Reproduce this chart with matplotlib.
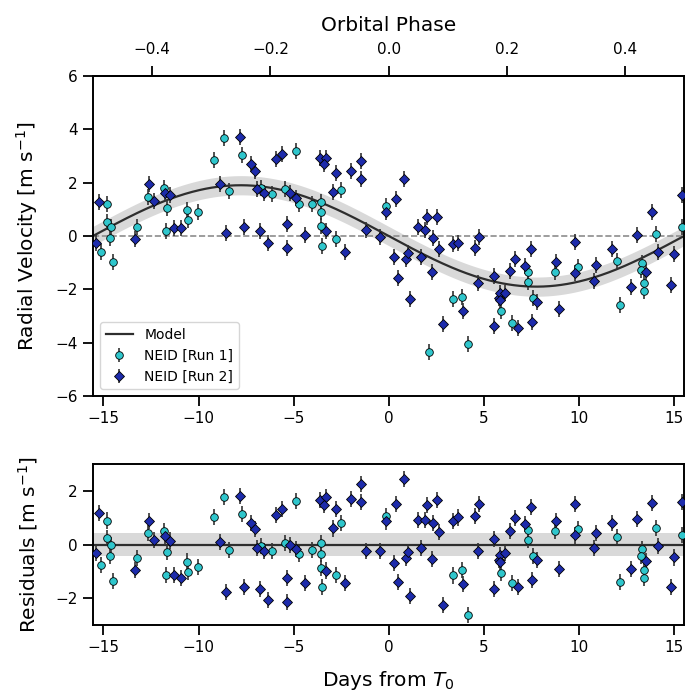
import numpy as np
import matplotlib
matplotlib.use("Agg")
from matplotlib import pyplot as plt

# orbit model
periodo = 31.1
K = 1.9
banda_rv = 0.36
banda_res = 0.43

# NEID Run 1 (dias desde T0, velocidad radial m/s)
t_run1 = [-14.79, -15.12, -14.79, -14.61, -14.65, -14.51, -12.67, -13.23, -11.83, -11.68,
          -11.71, -10.59, -10.54, -10.05, -9.21, -8.65, -7.72, -8.42, -6.71, -6.12,
          -4.88, -5.45, -4.72, -4.02, -3.53, -3.53, -3.53, -3.48, -2.52, -2.78,
          -0.12, 2.15, 3.41, 3.86, 4.20, 5.91, 6.47, 7.36, 7.32, 7.62,
          8.76, 9.98, 12.03, 12.15, 13.34, 13.29, 13.42, 13.42, 14.09, 15.43]
rv_run1 = [1.19, -0.59, 0.54, 0.35, -0.09, -0.96, 1.47, 0.35, 1.79, 1.06,
           0.20, 0.97, 0.60, 0.88, 2.85, 3.66, 3.04, 1.70, 1.81, 1.57,
           3.20, 1.75, 1.20, 1.19, 1.29, 0.91, 0.37, -0.37, 1.72, -0.12,
           1.12, -4.34, -2.36, -2.27, -4.06, -2.81, -3.27, -1.34, -1.71, -2.31,
           -1.34, -1.15, -0.94, -2.59, -1.00, -1.27, -1.75, -2.05, 0.07, 0.33]

# NEID Run 2
t_run2 = [-15.26, -15.40, -12.62, -12.36, -13.32, -11.76, -11.50, -11.29, -10.92, -7.81,
          -7.24, -7.01, -8.86, -8.53, -7.60, -6.76, -6.36, -6.94, -6.55, -5.93,
          -5.59, -5.19, -4.88, -5.33, -5.33, -3.62, -3.27, -3.41, -2.78, -1.96,
          -1.47, -1.43, -2.92, -3.27, -4.40, -2.27, -1.21, -0.47, -0.12, 0.37,
          0.79, 0.28, 0.49, 1.54, 2.03, 2.55, 1.89, 2.33, 2.64, 3.37,
          3.67, 4.77, 4.55, 0.93, 1.01, 1.71, 2.27, 1.15, 3.90, 2.88,
          4.69, 5.53, 5.82, 5.53, 9.81, 6.38, 6.66, 7.50, 7.18, 8.79,
          9.81, 10.89, 10.80, 5.86, 6.14, 5.86, 6.82, 7.52, 7.83, 8.97,
          11.74, 12.73, 13.07, 13.55, 13.86, 14.16, 15.00, 14.88, 15.43]
rv_run2 = [1.29, -0.25, 1.94, 1.31, -0.12, 1.62, 1.54, 0.29, 0.30, 3.70,
           2.70, 2.45, 1.95, 0.10, 0.33, 0.19, -0.25, 1.75, 1.60, 2.88,
           3.06, 1.62, 1.41, 0.44, -0.46, 2.94, 2.94, 2.70, 2.35, 2.44,
           2.82, 2.14, 1.66, 0.20, 0.04, -0.59, 0.22, -0.05, 0.91, 1.38,
           2.13, -0.78, -1.59, 0.35, 0.72, 0.72, 0.22, -0.06, -0.50, -0.31,
           -0.27, -0.05, -0.44, -0.87, -0.65, -0.78, -1.37, -2.36, -2.81, -3.31,
           -1.77, -1.50, -2.34, -3.37, -0.21, -1.30, -0.87, -0.50, -1.11, -0.99,
           -1.40, -1.09, -1.68, -2.15, -2.12, -2.40, -3.46, -3.21, -2.46, -2.74,
           -0.50, -1.92, 0.04, -1.37, 0.91, -0.59, -0.69, -1.84, 1.54]

err = 0.3


def modelo(t):
    return -K * np.sin(2 * np.pi * np.asarray(t) / periodo)


t_run1 = np.array(t_run1)
t_run2 = np.array(t_run2)
rv_run1 = np.array(rv_run1)
rv_run2 = np.array(rv_run2)
res_run1 = rv_run1 - modelo(t_run1)
res_run2 = rv_run2 - modelo(t_run2)

plt.rcParams["axes.linewidth"] = 1.4
plt.rcParams["xtick.major.size"] = 7.5
plt.rcParams["ytick.major.size"] = 7.5
plt.rcParams["xtick.major.width"] = 1.3
plt.rcParams["ytick.major.width"] = 1.3

col1 = "#2fc6cc"
col2 = "#1d2bab"
tt = np.linspace(-periodo / 2, periodo / 2, 400)

fig = plt.figure(figsize=(6.89, 6.96), dpi=100)
ax = fig.add_axes([0.135, 0.431, 0.858, 0.460])
ax2 = fig.add_axes([0.135, 0.102, 0.858, 0.231])

ax.fill_between(tt, modelo(tt) - banda_rv, modelo(tt) + banda_rv, color="0.85", lw=0, zorder=1)
ax.plot(tt, modelo(tt), color="#2e2e2e", lw=1.6, label="Model", zorder=2)
ax.axhline(0, color="0.55", ls="--", lw=1.2, zorder=1.5)
ax.errorbar(t_run1, rv_run1, yerr=err, fmt="o", ms=5.5, mfc=col1, mec="k", mew=0.6,
            ecolor="#333333", elinewidth=1.2, label="NEID [Run 1]", zorder=3)
ax.errorbar(t_run2, rv_run2, yerr=err, fmt="D", ms=5, mfc=col2, mec="k", mew=0.6,
            ecolor="#333333", elinewidth=1.2, label="NEID [Run 2]", zorder=3)
ax.set_xlim(-periodo / 2, periodo / 2)
ax.set_ylim(-6, 6)
ax.set_ylabel("Radial Velocity [m s$^{-1}$]", fontsize=14.5, labelpad=11)
ax.legend(loc="lower left", fontsize=10, framealpha=0.8)
ax.tick_params(labelsize=11)

top = ax.secondary_xaxis("top", functions=(lambda d: d / periodo, lambda p: p * periodo))
top.set_xticks([-0.4, -0.2, 0.0, 0.2, 0.4])
top.set_xlabel("Orbital Phase", fontsize=14.5, labelpad=8)
top.tick_params(labelsize=11, pad=6)

ax2.fill_between(tt, -banda_res, banda_res, color="0.85", lw=0, zorder=1)
ax2.axhline(0, color="#2e2e2e", lw=1.6, zorder=2)
ax2.errorbar(t_run1, res_run1, yerr=err, fmt="o", ms=5.5, mfc=col1, mec="k", mew=0.6,
             ecolor="#333333", elinewidth=1.2, zorder=3)
ax2.errorbar(t_run2, res_run2, yerr=err, fmt="D", ms=5, mfc=col2, mec="k", mew=0.6,
             ecolor="#333333", elinewidth=1.2, zorder=3)
ax2.set_xlim(-periodo / 2, periodo / 2)
ax2.set_ylim(-3, 3)
ax2.set_ylabel("Residuals [m s$^{-1}$]", fontsize=14.5, labelpad=11)
ax2.set_xlabel("Days from $T_0$", fontsize=14.5, labelpad=10)
ax2.tick_params(labelsize=11)

fig.savefig("out.png", dpi=100)
